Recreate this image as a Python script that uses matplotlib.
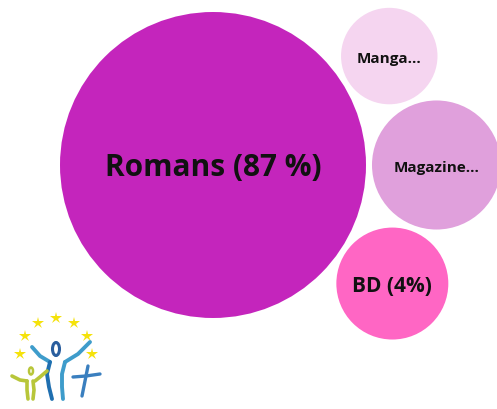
import numpy as np
import matplotlib
matplotlib.use('Agg')
import matplotlib.pyplot as plt
from matplotlib.patches import Circle, Ellipse

# share of each genre, in percent
genres = ['Romans', 'Manga', 'Magazine', 'BD']
shares = [87, 2, 7, 4]
labels = ['Romans (87 %)', 'Manga...', 'Magazine...', 'BD (4%)']
colors = ['#C425BC', '#F5D5F0', '#E0A0DC', '#FF66C4']
font_sizes = [21.5, 11, 11, 15]

# bubble radius scale (pixels): r = R_MIN + R_K * sqrt(value)
R_MIN = 29.5
R_K = 13.24
PAD = 6


def radius(v):
    return R_MIN + R_K * np.sqrt(v)


def tangent_to_pair(ca, ra, cb, rb, r, side):
    # centre of a circle of radius r touching circles a and b (with padding)
    ca = np.array(ca, dtype=float)
    cb = np.array(cb, dtype=float)
    d = np.linalg.norm(cb - ca)
    a = ra + r + PAD
    b = rb + r + PAD
    x = (a * a - b * b + d * d) / (2 * d)
    h = np.sqrt(max(a * a - x * x, 0))
    u = (cb - ca) / d
    n = np.array([-u[1], u[0]]) * side
    return ca + u * x + n * h


radii = [radius(v) for v in shares]

# big bubble at the origin, magazine to its right, the two others in the gaps
centers = [None] * 4
centers[0] = np.array([0.0, 0.0])
centers[2] = np.array([radii[0] + radii[2] + PAD, 0.0])
centers[1] = tangent_to_pair(centers[0], radii[0], centers[2], radii[2], radii[1], -1)
centers[3] = tangent_to_pair(centers[0], radii[0], centers[2], radii[2], radii[3], 1)

fig = plt.figure(figsize=(4.97, 4.10), dpi=100)
ax = fig.add_axes([0, 0, 1, 1])
ax.set_xlim(-213, 284)
ax.set_ylim(244, -166)
ax.set_aspect('equal')
ax.axis('off')

for c, r, col, lab, fs in zip(centers, radii, colors, labels, font_sizes):
    ax.add_patch(Circle(c, r, facecolor=col, edgecolor='none'))
    ax.text(c[0], c[1] + 2, lab, ha='center', va='center', fontsize=fs,
            fontweight='bold', family=['Open Sans', 'DejaVu Sans'], color='#111111')

# little logo in the lower left corner
lg = fig.add_axes([0, 0, 120 / 497, 110 / 410])
lg.set_xlim(0, 120)
lg.set_ylim(110, 0)
lg.axis('off')

star_x = [20, 25, 38, 56, 74, 87, 92]
star_y = [55, 37, 24, 19, 24, 37, 55]
lg.plot(star_x, star_y, linestyle='none', marker='*', markersize=9,
        color='#F5E20A', markeredgewidth=0)

blue = '#1F6FB0'
teal = '#3E9CCB'
green = '#B8C63A'
kw = dict(solid_capstyle='round', solid_joinstyle='round')

# tall blue figure
lg.add_patch(Ellipse((56, 50), 7, 13, fill=False, edgecolor='#2A5E9E', linewidth=2.2))
lg.plot([32, 40, 50], [48, 57, 63], color=teal, linewidth=2.8, **kw)
lg.plot([90, 78, 65], [43, 55, 63], color=teal, linewidth=2.8, **kw)
lg.plot([50, 47, 49, 52], [63, 75, 88, 100], color=blue, linewidth=2.8, **kw)
lg.plot([65, 62, 62, 63], [63, 75, 88, 100], color=teal, linewidth=2.8, **kw)

# small green figure
lg.add_patch(Ellipse((31, 72), 4, 7, fill=False, edgecolor=green, linewidth=1.8))
lg.plot([12, 20, 27], [77, 81, 82], color=green, linewidth=2.6, **kw)
lg.plot([47, 40, 35], [72, 78, 82], color=green, linewidth=2.6, **kw)
lg.plot([27, 27, 28], [82, 91, 100], color=green, linewidth=2.6, **kw)
lg.plot([33, 34, 33], [82, 91, 100], color=green, linewidth=2.6, **kw)

# cross
lg.plot([88, 85, 82], [67, 82, 97], color='#3A7FBF', linewidth=2.4, **kw)
lg.plot([73, 86, 100], [78, 77, 75], color='#3A7FBF', linewidth=2.4, **kw)

fig.savefig('out.png', dpi=100, facecolor='white')
